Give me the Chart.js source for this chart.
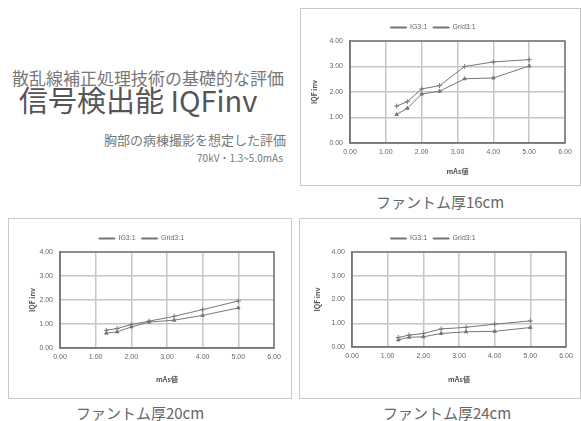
<!DOCTYPE html>
<html>
<head>
<meta charset="utf-8">
<script src="https://cdn.jsdelivr.net/npm/chart.js@4.4.1/dist/chart.umd.min.js"></script>
<style>
  html, body { margin: 0; padding: 0; background: #fff; }
  body { width: 581px; height: 421px; position: relative; overflow: hidden;
         font-family: "Noto Sans CJK JP", "Noto Sans", sans-serif; color: #555; }
  .txt { position: absolute; white-space: nowrap; line-height: 1; }
  .box { position: absolute; border: 1px solid #c8c8c8; box-sizing: border-box; }
  .box canvas { position: absolute; left: 0; top: 0; }
</style>
</head>
<body>

<div class="txt" style="left:12px; top:69px; font-size:17px; color:#777;">散乱線補正処理技術の基礎的な評価</div>
<div class="txt" style="left:19px; top:85px; font-size:29px; color:#555;">信号検出能 IQFinv</div>
<div class="txt" style="right:295px; top:133px; font-size:13px; color:#777;">胸部の病棟撮影を想定した評価</div>
<div class="txt" style="right:298px; top:153px; font-size:10px; color:#777;">70kV・1.3~5.0mAs</div>

<div class="box" style="left:300px; top:8px; width:281px; height:178px;"><canvas id="c16"></canvas></div>
<div class="box" style="left:8px; top:218px; width:284px; height:181px;"><canvas id="c20"></canvas></div>
<div class="box" style="left:299px; top:218px; width:282px; height:181px;"><canvas id="c24"></canvas></div>

<div class="txt" style="left:440px; top:194px; transform:translateX(-50%); font-size:15px; color:#666;">ファントム厚16cm</div>
<div class="txt" style="left:140px; top:405px; transform:translateX(-50%); font-size:15px; color:#666;">ファントム厚20cm</div>
<div class="txt" style="left:447px; top:405px; transform:translateX(-50%); font-size:15px; color:#666;">ファントム厚24cm</div>

<script>
// mAs values (x) and IQFinv per phantom thickness
const mAs = [1.3, 1.6, 2.0, 2.5, 3.2, 4.0, 5.0];

const ig16   = [1.45, 1.62, 2.12, 2.25, 3.00, 3.18, 3.27];
const grid16 = [1.12, 1.36, 1.92, 2.03, 2.52, 2.55, 3.02];

const ig20   = [0.74, 0.81, 0.98, 1.12, 1.32, 1.60, 1.96];
const grid20 = [0.62, 0.67, 0.88, 1.08, 1.16, 1.36, 1.67];

const ig24   = [0.40, 0.50, 0.57, 0.76, 0.83, 0.96, 1.10];
const grid24 = [0.30, 0.41, 0.43, 0.57, 0.64, 0.66, 0.82];

const xTicks = [0, 1, 2, 3, 4, 5, 6];
const yTicks = [0, 1, 2, 3, 4];
const seriesNames = ['IG3:1', 'Grid3:1'];

const TICK_FONT = { family: 'Liberation Sans', size: 7 };
const TITLE_FONT = { family: 'Noto Sans CJK JP', size: 7, weight: 'bold' };

function pts(ys) {
  return mAs.map((x, i) => ({ x, y: ys[i] }));
}

function makeChart(id, ig, grid, g) {
  const canvas = document.getElementById(id);
  canvas.width = g.w;
  canvas.height = g.h;
  return new Chart(canvas, {
    type: 'scatter',
    data: {
      datasets: [
        { label: seriesNames[0], data: pts(ig), showLine: true,
          borderColor: '#777', backgroundColor: '#777', borderWidth: 1,
          pointStyle: 'cross', pointRadius: 2.5, pointBorderWidth: 1 },
        { label: seriesNames[1], data: pts(grid), showLine: true,
          borderColor: '#777', backgroundColor: '#777', borderWidth: 1,
          pointStyle: 'triangle', pointRadius: 2, pointBorderWidth: 1 }
      ]
    },
    options: {
      responsive: false,
      animation: false,
      layout: { padding: { left: 0, right: g.right, top: g.top, bottom: 0 } },
      plugins: {
        legend: {
          position: 'top',
          labels: { font: TICK_FONT, color: '#666', boxWidth: 16, boxHeight: 1, padding: 6 }
        },
        tooltip: { enabled: false }
      },
      scales: {
        x: {
          type: 'linear', min: 0, max: 6,
          afterBuildTicks: (s) => { s.ticks = xTicks.map(v => ({ value: v })); },
          afterFit: (s) => { s.height = g.bottom; },
          ticks: { font: TICK_FONT, color: '#666', padding: 5, callback: v => v.toFixed(2) },
          grid: { color: '#c6c6c6', lineWidth: 1.5, drawTicks: false },
          border: { color: '#777', width: 1.5 },
          title: { display: true, text: 'mAs値', font: TITLE_FONT, color: '#555',
                   padding: { top: 0, bottom: g.xtPad } }
        },
        y: {
          min: 0, max: 4,
          afterBuildTicks: (s) => { s.ticks = yTicks.map(v => ({ value: v })); },
          afterFit: (s) => { s.width = g.left; },
          ticks: { font: TICK_FONT, color: '#666', padding: 7, callback: v => v.toFixed(2) },
          grid: { color: '#c6c6c6', lineWidth: 1.5, drawTicks: false },
          border: { color: '#777', width: 1.5 },
          title: { display: true, text: 'IQF inv', font: TITLE_FONT, color: '#555',
                   padding: { top: g.ytPad, bottom: 0 } }
        }
      }
    },
    plugins: [{
      id: 'frame',
      afterDraw(chart) {
        const a = chart.chartArea, c = chart.ctx;
        c.save();
        c.strokeStyle = '#777';
        c.lineWidth = 1.5;
        c.strokeRect(a.left, a.top, a.right - a.left, a.bottom - a.top);
        c.restore();
      }
    }]
  });
}

makeChart('c16', ig16, grid16, { w: 279, h: 176, left: 49, right: 15, top: 9, bottom: 42, xtPad: 9, ytPad: 9 });
makeChart('c20', ig20, grid20, { w: 282, h: 179, left: 51, right: 17, top: 10, bottom: 50, xtPad: 14, ytPad: 19 });
makeChart('c24', ig24, grid24, { w: 280, h: 179, left: 52, right: 14, top: 10, bottom: 51, xtPad: 14, ytPad: 13 });
</script>
</body>
</html>
